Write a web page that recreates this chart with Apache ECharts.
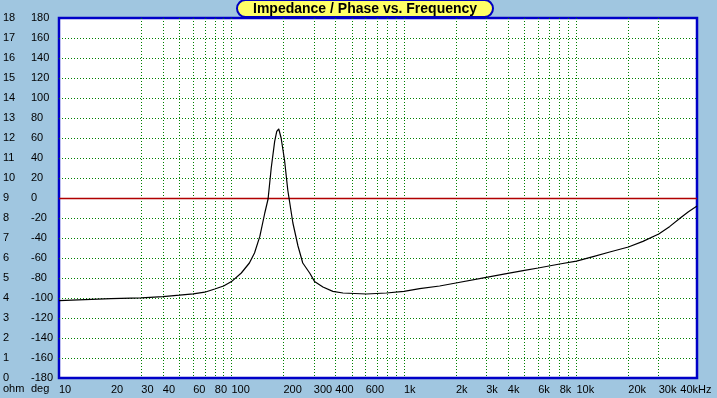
<!DOCTYPE html>
<html>
<head>
<meta charset="utf-8">
<script src="https://cdn.jsdelivr.net/npm/echarts@6/dist/echarts.min.js"></script>
<style>
  html, body { margin: 0; padding: 0; background: #A0C6E0; }
  #main { width: 717px; height: 398px; }
</style>
</head>
<body>
<div id="main"></div>
<script>
// frequency points (Hz) and impedance (ohm)
var freqs = [10, 20, 30, 40, 50, 60, 70, 80, 90, 100, 114, 127, 136, 146, 156, 163, 170, 178, 183, 188,
    194, 203, 212, 227, 243, 259, 284, 303, 339, 387, 443, 605, 790, 1000, 1233, 1610, 2000, 3000, 4000,
    5000, 6000, 8000, 10000, 12500, 15600, 20000, 24300, 30000, 34800, 40000, 44400, 50000];
var ohms = [3.87, 3.97, 4.01, 4.07, 4.14, 4.21, 4.29, 4.45, 4.6, 4.82, 5.25, 5.75, 6.25, 7.08, 8.25, 8.95, 10.5,
    11.83, 12.33, 12.45, 12.0, 10.9, 9.4, 7.75, 6.6, 5.75, 5.25, 4.83, 4.55, 4.33, 4.25, 4.2, 4.25, 4.33,
    4.47, 4.6, 4.75, 5.03, 5.23, 5.38, 5.5, 5.7, 5.84, 6.07, 6.3, 6.55, 6.83, 7.2, 7.58, 8.0, 8.3, 8.6];

// grid lines / labels of the frequency axis
var freqGrid = [20, 30, 40, 50, 60, 70, 80, 90, 100, 200, 300, 400, 500, 600, 700, 800, 900,
    1000, 2000, 3000, 4000, 5000, 6000, 7000, 8000, 9000, 10000, 20000, 30000, 40000];
var freqLabels = [10, 20, 30, 40, 60, 80, 100, 200, 300, 400, 600, 1000, 2000, 3000, 4000, 6000, 8000,
    10000, 20000, 30000, 40000];

var font = 'Liberation Sans';
var chart = echarts.init(document.getElementById('main'));

var points = [];
for (var i = 0; i < freqs.length; i++) {
    points.push([freqs[i], ohms[i]]);
}

var gridDots = { color: '#008000', type: [1, 2], width: 1 };

option = {
    backgroundColor: '#A0C6E0',
    animation: false,
    title: {
        text: 'Impedance / Phase vs. Frequency',
        left: 237,
        top: 0,
        padding: [2, 16, 1, 16],
        backgroundColor: '#FFFF66',
        borderColor: '#0000C0',
        borderWidth: 2,
        borderRadius: 9,
        textStyle: {
            fontFamily: font,
            fontSize: 14,
            fontWeight: 'bold',
            color: '#000'
        }
    },
    grid: {
        left: 59,
        right: 20,
        top: 18,
        bottom: 20,
        show: true,
        backgroundColor: '#fff',
        borderColor: '#0000C8',
        borderWidth: 2.5
    },
    xAxis: {
        type: 'log',
        logBase: 10,
        min: 10,
        max: 50000,
        axisLine: { show: false },
        axisTick: { show: false, customValues: freqGrid },
        axisLabel: {
            customValues: freqLabels,
            align: 'left',
            margin: 6,
            fontFamily: font,
            fontSize: 11,
            color: '#000',
            formatter: function (v) {
                if (v == 40000) return '40kHz';
                if (v >= 1000) return (v / 1000) + 'k';
                return v;
            }
        },
        splitLine: {
            show: true,
            showMinLine: false,
            showMaxLine: false,
            lineStyle: gridDots
        }
    },
    yAxis: [
        {
            type: 'value',
            position: 'left',
            min: 0,
            max: 18,
            interval: 1,
            axisLine: { show: false },
            axisTick: { show: false },
            axisLabel: {
                align: 'left',
                margin: 56,
                padding: [0, 0, 3, 0],
                fontFamily: font,
                fontSize: 11,
                color: '#000'
            },
            splitLine: {
                show: true,
                showMinLine: false,
                showMaxLine: false,
                lineStyle: gridDots
            }
        },
        {
            type: 'value',
            position: 'left',
            min: -180,
            max: 180,
            interval: 20,
            axisLine: { show: false },
            axisTick: { show: false },
            axisLabel: {
                align: 'left',
                margin: 28,
                padding: [0, 0, 3, 0],
                fontFamily: font,
                fontSize: 11,
                color: '#000'
            },
            splitLine: { show: false }
        }
    ],
    graphic: [
        { type: 'text', left: 3, top: 383, style: { text: 'ohm', font: '11px ' + font, fill: '#000' } },
        { type: 'text', left: 31, top: 383, style: { text: 'deg', font: '11px ' + font, fill: '#000' } }
    ],
    series: [
        {
            type: 'line',
            yAxisIndex: 0,
            data: points,
            showSymbol: false,
            smooth: false,
            lineStyle: { color: '#000', width: 1.2 },
            markLine: {
                silent: true,
                symbol: 'none',
                label: { show: false },
                lineStyle: { color: '#B00000', type: 'solid', width: 1.3 },
                data: [{ yAxis: 9 }]
            },
            z: 5
        }
    ]
};
chart.setOption(option);
</script>
</body>
</html>
